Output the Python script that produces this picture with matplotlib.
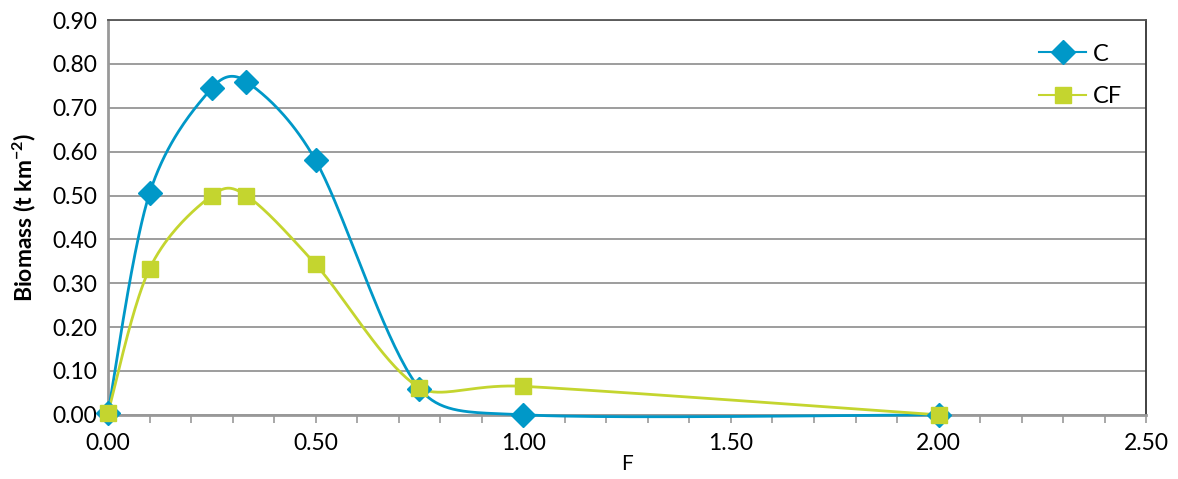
import numpy as np
import matplotlib as mpl
mpl.use('Agg')
import matplotlib.pyplot as plt
from matplotlib.ticker import MultipleLocator, FormatStrFormatter

plt.rcParams['font.family'] = ['Lato', 'DejaVu Sans']
plt.rcParams['mathtext.fontset'] = 'custom'
plt.rcParams['mathtext.rm'] = 'Lato'
plt.rcParams['mathtext.it'] = 'Lato'
plt.rcParams['mathtext.bf'] = 'Lato:bold'

F = [0.0, 0.1, 0.25, 0.333, 0.5, 0.75, 1.0, 2.0]
C = [0.005, 0.505, 0.745, 0.760, 0.580, 0.060, 0.0, 0.0]
CF = [0.005, 0.333, 0.500, 0.500, 0.343, 0.062, 0.065, 0.0]

blue = '#0098C8'
green = '#C4D52F'

# axes size in pixels, used for the smoothing (done in screen-like space)
SX = 1038 / 2.5
SY = 395 / 0.9


def smooth(xs, ys, n=40):
    """Excel-like smoothed line: cubic bezier, tangents shortened on long neighbours."""
    P = np.column_stack([np.array(xs) * SX, np.array(ys) * SY])
    out = [P[0]]
    m = len(P)
    for i in range(m - 1):
        p0 = P[max(i - 1, 0)]
        p1, p2 = P[i], P[i + 1]
        p3 = P[min(i + 2, m - 1)]
        d12 = np.hypot(*(p2 - p1))
        d02 = np.hypot(*(p2 - p0))
        d13 = np.hypot(*(p3 - p1))
        f = 1 / 6.0
        if d02 / 6 > d12 / 2:
            f = min(f, d12 / (2 * d02))
        if d13 / 6 > d12 / 2:
            f = min(f, d12 / (2 * d13))
        c1 = p1 + f * (p2 - p0)
        c2 = p2 - f * (p3 - p1)
        s = np.linspace(0, 1, n)[1:, None]
        b = ((1 - s) ** 3) * p1 + 3 * ((1 - s) ** 2) * s * c1 \
            + 3 * (1 - s) * s ** 2 * c2 + s ** 3 * p2
        out.extend(b)
    out = np.array(out)
    return out[:, 0] / SX, out[:, 1] / SY


fig = plt.figure(figsize=(11.78, 4.79), dpi=100)
ax = fig.add_axes([0.0917, 0.134, 0.8813, 0.824])

for ys, col, mk, ms, lab in [(C, blue, 'D', 12.5, 'C'), (CF, green, 's', 11.5, 'CF')]:
    sx, sy = smooth(F, ys)
    ax.plot(sx, sy, color=col, lw=2, zorder=3, clip_on=False)
    ax.plot(F, ys, ls='none', marker=mk, ms=ms, color=col, zorder=4, clip_on=False)
    ax.plot([], [], color=col, lw=1.5, marker=mk, ms=ms * 0.95, label=lab)

ax.set_xlim(0, 2.5)
ax.set_ylim(0, 0.9)
ax.xaxis.set_major_locator(MultipleLocator(0.5))
ax.xaxis.set_minor_locator(MultipleLocator(0.1))
ax.yaxis.set_major_locator(MultipleLocator(0.1))
ax.xaxis.set_major_formatter(FormatStrFormatter('%.2f'))
ax.yaxis.set_major_formatter(FormatStrFormatter('%.2f'))
ax.tick_params(axis='x', which='both', direction='out', length=6, width=1.2,
               color='#999999', labelsize=16.5, pad=7)
ax.tick_params(axis='y', length=0, labelsize=16.5, pad=8)
ax.grid(axis='y', color='#8c8c8c', lw=1.2, zorder=0)
ax.set_axisbelow(True)

for side in ['left', 'bottom']:
    ax.spines[side].set_color('#999999')
    ax.spines[side].set_linewidth(2)
ax.spines['top'].set_color('#555555')
ax.spines['top'].set_linewidth(1.3)
ax.spines['right'].set_color('#333333')
ax.spines['right'].set_linewidth(1.3)

ax.set_xlabel('F', fontsize=15, labelpad=0)
ax.set_ylabel(r'Biomass (t km$^{\mathbf{-2}}$)', fontsize=16.5, fontweight='bold',
              labelpad=10)

ax.legend(loc='upper right', bbox_to_anchor=(1.0, 1.0), frameon=False,
          fontsize=17, labelspacing=0.9, handlelength=2.0, handletextpad=0.3,
          borderaxespad=0.6)

fig.savefig('out.png', dpi=100)
